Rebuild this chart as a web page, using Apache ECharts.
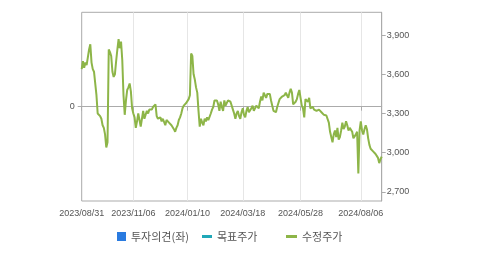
<!DOCTYPE html>
<html>
<head>
<meta charset="utf-8">
<script src="https://cdn.jsdelivr.net/npm/echarts@6/dist/echarts.min.js"></script>
<style>html,body{margin:0;padding:0;background:#fff}#c{width:479px;height:255px}</style>
</head>
<body>
<div id="c"></div>
<script>
// Trading calendar (categories): Korean market days from 2023-08-31
const startDate = [2023, 8, 31];
const dayCount = 245;
const holidays = ['2023-09-28','2023-09-29','2023-10-02','2023-10-03','2023-10-09','2023-12-25','2023-12-29',
  '2024-01-01','2024-02-09','2024-02-12','2024-03-01','2024-04-10','2024-05-01','2024-05-06','2024-05-15',
  '2024-06-06','2024-08-15'];
const labelDates = ['2023/08/31','2023/11/06','2024/01/10','2024/03/18','2024/05/28','2024/08/06'];
const rightTicks = [2700, 3000, 3300, 3600, 3900];
const leftTicks = [0];

// 수정주가 (adjusted price), one value per trading day
const prices = [
3640,3700,3650,3690,3670,3730,3790,3830,3690,3640,
3620,3630,3440,3300,3290,3280,3260,3210,3190,3140,
3040,3080,3790,3770,3740,3620,3580,3600,3700,3790,
3870,3800,3850,3710,3440,3290,3400,3480,3500,3530,
3470,3340,3300,3270,3190,3240,3300,3250,3200,3260,
3320,3260,3290,3320,3300,3330,3340,3330,3350,3350,
3370,3280,3260,3250,3270,3240,3260,3250,3210,3250,
3240,3230,3220,3210,3200,3180,3160,3190,3210,3250,
3270,3300,3340,3360,3370,3380,3390,3410,3440,3760,
3740,3600,3560,3500,3460,3320,3200,3260,3230,3210,
3260,3240,3270,3250,3260,3300,3330,3350,3400,3410,
3400,3370,3320,3390,3350,3320,3400,3360,3350,3400,
3390,3390,3400,3330,3300,3260,3300,3320,3280,3260,
3310,3340,3290,3270,3320,3350,3310,3300,3340,3360,
3320,3310,3360,3350,3340,3390,3430,3400,3460,3440,
3420,3450,3440,3450,3400,3360,3320,3330,3310,3350,
3380,3410,3420,3430,3420,3440,3460,3440,3420,3460,
3490,3460,3370,3380,3390,3410,3450,3480,3420,3360,
3340,3270,3410,3400,3390,3420,3340,3350,3350,3330,
3340,3320,3310,3330,3320,3310,3320,3290,3290,3285,
3280,3230,3160,3120,3080,3140,3170,3120,3190,3100,
3120,3170,3230,3180,3200,3240,3210,3170,3190,3180,
3160,3110,3100,3140,3160,2840,3170,3240,3170,3140,
3180,3210,3180,3110,3060,3030,3030,3010,2995,2990,
2975,2960,2920,2950,2970
];
const targetPrices = [];
const opinions = [];

function pad(n){return (n<10?'0':'')+n;}
function buildDates(){
  const hs = new Set(holidays);
  const out = [];
  let d = new Date(Date.UTC(startDate[0], startDate[1]-1, startDate[2]));
  while (out.length < dayCount) {
    const wd = d.getUTCDay();
    const iso = d.getUTCFullYear()+'-'+pad(d.getUTCMonth()+1)+'-'+pad(d.getUTCDate());
    if (wd !== 0 && wd !== 6 && !hs.has(iso)) out.push(iso.replace(/-/g,'/'));
    d = new Date(d.getTime() + 86400000);
  }
  return out;
}
const dates = buildDates();
const labelSet = new Set(labelDates);

const chart = echarts.init(document.getElementById('c'), null, {renderer:'canvas'});
const axisFont = {fontFamily:'Liberation Sans, Arial, sans-serif', fontSize:9, color:'#555'};
const legendText = {fontFamily:'Noto Sans CJK KR, sans-serif', fontSize:11, color:'#555'};
chart.setOption({
  animation:false,
  grid:{left:81.7, right:97.3, top:12.3, bottom:54, show:true, borderColor:'#ababab', borderWidth:1, backgroundColor:'transparent'},
  legend:[
    {left:117, top:231, padding:0, itemWidth:9, itemHeight:9, textStyle:legendText, data:[{name:'투자의견(좌)', icon:'rect'}]},
    {left:202, top:231, padding:0, itemWidth:10, itemHeight:3, textStyle:legendText, data:[{name:'목표주가', icon:'rect'}]},
    {left:286, top:231, padding:0, itemWidth:11, itemHeight:3, textStyle:legendText, data:[{name:'수정주가', icon:'rect'}]}
  ],
  xAxis:{
    type:'category', data:dates, boundaryGap:false,
    axisLine:{show:true, lineStyle:{color:'#ababab'}},
    axisTick:{show:true, length:4, interval:(i,v)=>labelSet.has(v), lineStyle:{color:'#ababab'}},
    axisLabel:Object.assign({interval:(i,v)=>labelSet.has(v), margin:8, showMinLabel:true}, axisFont),
    splitLine:{show:true, interval:(i,v)=>i>0 && labelSet.has(v), lineStyle:{color:'#e6e6e6'}}
  },
  yAxis:[
    {type:'value', position:'left', min:-1, max:1, interval:1,
      axisLine:{show:false},
      axisTick:{show:true, length:4, customValues:leftTicks, lineStyle:{color:'#ababab'}},
      axisLabel:Object.assign({customValues:leftTicks, margin:7}, axisFont),
      splitLine:{show:true, lineStyle:{color:['#ababab','#e6e6e6','#ababab']}}},
    {type:'value', position:'right', min:2630, max:4075,
      axisLine:{show:true, lineStyle:{color:'#ababab'}},
      axisTick:{show:true, length:4, customValues:rightTicks, lineStyle:{color:'#ababab'}},
      axisLabel:Object.assign({customValues:rightTicks, margin:5,
        formatter:v=>v.toLocaleString('en-US')}, axisFont),
      splitLine:{show:false}}
  ],
  series:[
    {name:'투자의견(좌)', type:'bar', yAxisIndex:0, data:opinions, itemStyle:{color:'#2a7be0'}},
    {name:'목표주가', type:'line', yAxisIndex:1, data:targetPrices, showSymbol:false, itemStyle:{color:'#20a8b8'}, lineStyle:{color:'#20a8b8', width:2}},
    {name:'수정주가', type:'line', yAxisIndex:1, data:prices, showSymbol:false, symbol:'none',
      itemStyle:{color:'#8db548'}, lineStyle:{color:'#8db548', width:2}}
  ]
});
</script>
</body>
</html>
